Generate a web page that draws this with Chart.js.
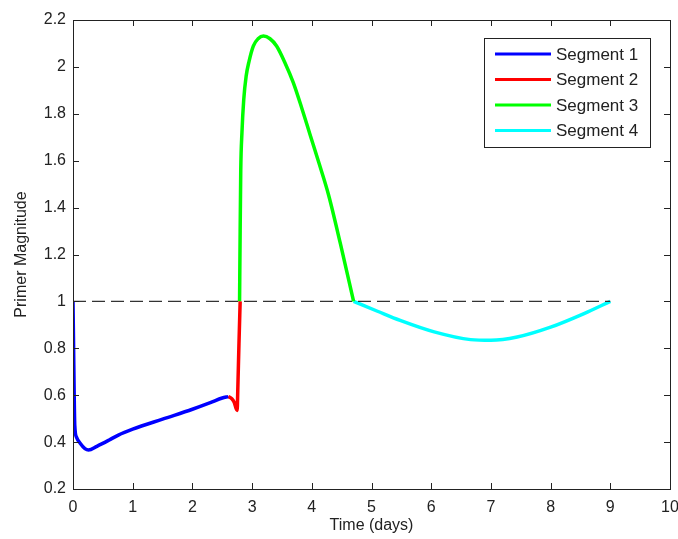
<!DOCTYPE html>
<html>
<head>
<meta charset="utf-8">
<script src="https://cdn.jsdelivr.net/npm/chart.js@4.4.0/dist/chart.umd.min.js"></script>
<style>
  html, body { margin: 0; padding: 0; background: #fff; }
  #wrap { width: 678px; height: 539px; }
</style>
</head>
<body>
<div id="wrap"><canvas id="primerChart" width="678" height="539"></canvas></div>
<script>
// ─── data ──────────────────────────────────────
const seg1X = [0, 0.01, 0.02, 0.03, 0.06, 0.12, 0.2, 0.26, 0.4, 0.6, 0.76, 1.0, 1.5, 2.0, 2.3, 2.5, 2.6];
const seg1Y = [1.0, 0.8, 0.6, 0.47, 0.42, 0.395, 0.372, 0.366, 0.382, 0.408, 0.43, 0.455, 0.498, 0.54, 0.568, 0.588, 0.594];

const seg2X = [2.6, 2.66, 2.7, 2.73, 2.75, 2.76, 2.78, 2.8];
const seg2Y = [0.594, 0.585, 0.57, 0.545, 0.535, 0.62, 0.82, 1.0];

const seg3X = [2.79, 2.8, 2.81, 2.83, 2.86, 2.9, 2.95, 3.02, 3.10, 3.19, 3.30, 3.41, 3.55, 3.69, 3.83, 3.97, 4.12, 4.28, 4.48, 4.7];
const seg3Y = [1.0, 1.3, 1.56, 1.72, 1.86, 1.96, 2.025, 2.089, 2.12, 2.132, 2.12, 2.089, 2.018, 1.933, 1.826, 1.712, 1.59, 1.455, 1.245, 1.0];

const seg4X = [4.7, 5.1, 5.48, 6.05, 6.66, 7.0, 7.44, 8.0, 8.56, 9.0];
const seg4Y = [1.0, 0.958, 0.919, 0.87, 0.837, 0.834, 0.848, 0.89, 0.948, 1.0];

const refX = [0, 9];
const refY = [1, 1];

const segLabels = ["Segment 1", "Segment 2", "Segment 3", "Segment 4"];
const segColors = ["#0000ff", "#ff0000", "#00ff00", "#00ffff"];

const xTicks = [0, 1, 2, 3, 4, 5, 6, 7, 8, 9, 10];
const yTicks = [0.2, 0.4, 0.6, 0.8, 1.0, 1.2, 1.4, 1.6, 1.8, 2.0, 2.2];

const FONT = "'Liberation Sans', Arial, Helvetica, sans-serif";
const INK = "#222";

function pts(xs, ys) { return xs.map((x, i) => ({ x, y: ys[i] })); }

// ─── box, inward ticks, axis titles and legend ─────────────────
const matlabAxes = {
  id: "matlabAxes",
  afterDraw(chart) {
    const { ctx, chartArea: a, scales } = chart;
    const xs = scales.x, ys = scales.y;
    ctx.save();
    ctx.strokeStyle = INK;
    ctx.lineWidth = 1;
    ctx.strokeRect(Math.round(a.left) + 0.5, Math.round(a.top) + 0.5,
                   Math.round(a.right - a.left), Math.round(a.bottom - a.top));
    ctx.beginPath();
    xTicks.forEach(v => {
      const px = Math.round(xs.getPixelForValue(v)) + 0.5;
      ctx.moveTo(px, a.bottom); ctx.lineTo(px, a.bottom - 6);
      ctx.moveTo(px, a.top); ctx.lineTo(px, a.top + 6);
    });
    yTicks.forEach(v => {
      const py = Math.round(ys.getPixelForValue(v)) + 0.5;
      ctx.moveTo(a.left, py); ctx.lineTo(a.left + 6, py);
      ctx.moveTo(a.right, py); ctx.lineTo(a.right - 6, py);
    });
    ctx.stroke();

    // axis titles
    ctx.fillStyle = INK;
    ctx.font = "16px " + FONT;
    ctx.textAlign = "center";
    ctx.textBaseline = "middle";
    ctx.fillText("Time (days)", (a.left + a.right) / 2, 526);
    ctx.translate(22, (a.top + a.bottom) / 2);
    ctx.rotate(-Math.PI / 2);
    ctx.fillText("Primer Magnitude", 0, 0);
    ctx.restore();

    // legend
    ctx.save();
    const lx = 484, ly = 38, lw = 166, lh = 109;
    ctx.fillStyle = "#fff";
    ctx.fillRect(lx, ly, lw, lh);
    ctx.strokeStyle = INK;
    ctx.lineWidth = 1;
    ctx.strokeRect(lx + 0.5, ly + 0.5, lw, lh);
    ctx.font = "17px " + FONT;
    ctx.textAlign = "left";
    ctx.textBaseline = "middle";
    chart.data.datasets.slice(0, 4).forEach((ds, i) => {
      const y = ly + 16 + i * 25.5;
      ctx.strokeStyle = ds.borderColor;
      ctx.lineWidth = 3;
      ctx.beginPath();
      ctx.moveTo(495, y); ctx.lineTo(551, y);
      ctx.stroke();
      ctx.fillStyle = INK;
      ctx.fillText(ds.label, 556, y + 1);
    });
    ctx.restore();
  }
};

const datasets = [
  pts(seg1X, seg1Y), pts(seg2X, seg2Y), pts(seg3X, seg3Y), pts(seg4X, seg4Y)
].map((d, i) => ({
  label: segLabels[i],
  data: d,
  borderColor: segColors[i],
  borderWidth: 3.5,
  pointRadius: 0,
  showLine: true,
  cubicInterpolationMode: "monotone",
  order: 1
}));
datasets.push({
  label: "ref",
  data: pts(refX, refY),
  borderColor: "#333",
  borderWidth: 1.3,
  borderDash: [13, 6],
  pointRadius: 0,
  showLine: true,
  order: 0
});

new Chart(document.getElementById("primerChart"), {
  type: "scatter",
  data: { datasets },
  options: {
    responsive: false,
    animation: false,
    layout: { padding: { top: 20, right: 8, bottom: 0, left: 0 } },
    plugins: { legend: { display: false }, tooltip: { enabled: false } },
    scales: {
      x: {
        type: "linear", min: 0, max: 10,
        afterBuildTicks: s => { s.ticks = xTicks.map(v => ({ value: v })); },
        afterFit: s => { s.height = 50; s.paddingLeft = 0; s.paddingRight = 0; },
        grid: { display: false, drawTicks: false },
        border: { display: false },
        ticks: { color: INK, font: { family: FONT, size: 16 }, padding: 9, maxRotation: 0 }
      },
      y: {
        type: "linear", min: 0.2, max: 2.2,
        afterBuildTicks: s => { s.ticks = yTicks.map(v => ({ value: v })); },
        afterFit: s => { s.width = 73; s.paddingTop = 0; s.paddingBottom = 0; },
        grid: { display: false, drawTicks: false },
        border: { display: false },
        ticks: {
          color: INK, font: { family: FONT, size: 16 }, padding: 7,
          callback: v => String(Number(v.toFixed(1)))
        }
      }
    }
  },
  plugins: [matlabAxes]
});
</script>
</body>
</html>
